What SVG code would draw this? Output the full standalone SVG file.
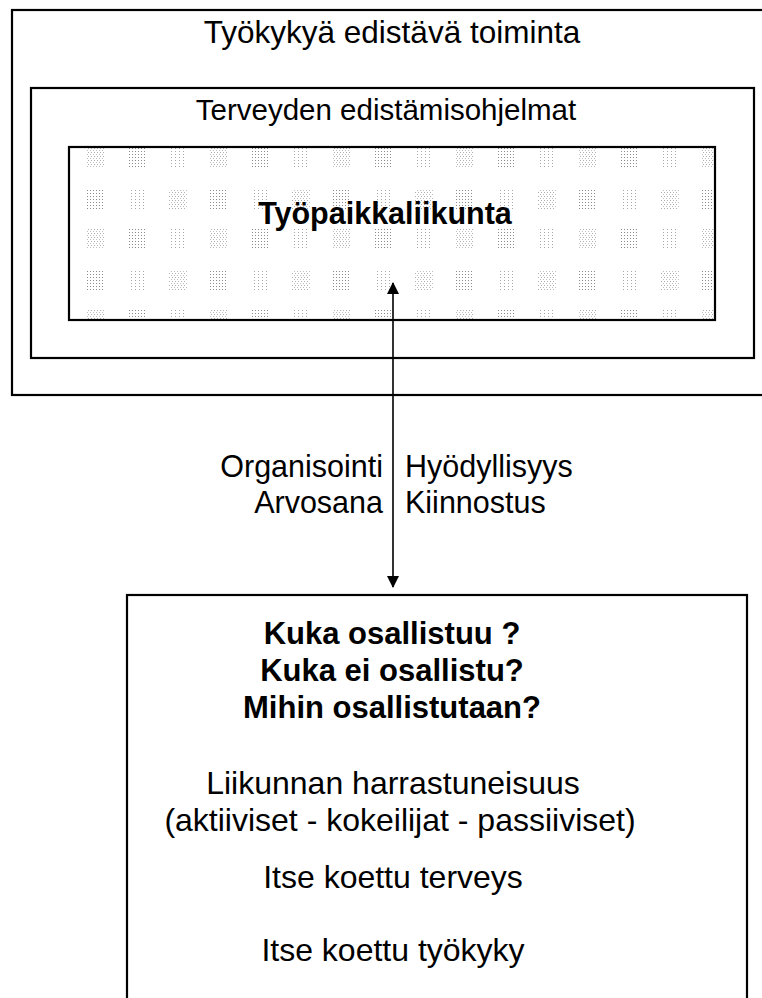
<svg xmlns="http://www.w3.org/2000/svg" width="762" height="998" viewBox="0 0 762 998">
<style>
  .box { fill: none; stroke: #000; stroke-width: 2.2; }
  .t { font-family: "Liberation Sans", Arial, sans-serif; fill: #000; }
  .c { text-anchor: middle; }
  .b { font-weight: bold; }
  .conn { stroke: #000; stroke-width: 1.6; fill: none; }
</style>
<defs>
  <pattern id="dA" patternUnits="userSpaceOnUse" width="3" height="3">
    <rect x="0" y="0" width="1" height="1" fill="#8c8c8c"/>
  </pattern>
  <pattern id="dB" patternUnits="userSpaceOnUse" width="4" height="3">
    <rect x="0" y="0" width="1" height="1" fill="#a8a8a8"/>
  </pattern>
  <pattern id="dC" patternUnits="userSpaceOnUse" width="3" height="4">
    <rect x="1" y="0" width="1" height="1" fill="#b0b0b0"/>
    <rect x="0" y="2" width="1" height="1" fill="#c0c0c0"/>
  </pattern>
  <pattern id="tiles" patternUnits="userSpaceOnUse" x="87" y="148" width="123" height="81">
    <rect x="0" y="0" width="18" height="20" fill="url(#dC)"/>
    <rect x="41" y="0" width="18" height="20" fill="url(#dA)"/>
    <rect x="82" y="0" width="18" height="20" fill="url(#dB)"/>
    <rect x="0" y="41" width="18" height="20" fill="url(#dA)"/>
    <rect x="41" y="41" width="18" height="20" fill="url(#dB)"/>
    <rect x="82" y="41" width="18" height="20" fill="url(#dC)"/>
  </pattern>
  <marker id="ah" viewBox="0 0 12 12" refX="11" refY="6" markerWidth="12" markerHeight="12" markerUnits="userSpaceOnUse" orient="auto-start-reverse">
    <path d="M0,0 L12,6 L0,12 Z" fill="#000"/>
  </marker>
</defs>

<g id="outer">
  <rect class="box" x="12" y="10" width="760" height="385"/>
  <text class="t c" x="392" y="43" font-size="31.5">Työkykyä edistävä toiminta</text>
</g>
<g id="programs">
  <rect class="box" x="31" y="88" width="723" height="270"/>
  <text class="t c" x="386" y="120" font-size="29.5">Terveyden edistämisohjelmat</text>
</g>
<g id="workplace">
  <rect x="69" y="147" width="646" height="173" fill="#fff"/>
  <rect x="69" y="147" width="646" height="173" fill="url(#tiles)"/>
  <rect class="box" x="69" y="147" width="646" height="173" stroke-width="2.6"/>
  <text class="t c b" x="385" y="224" font-size="30.5">Työpaikkaliikunta</text>
</g>

<g id="connectors">
  <line class="conn" x1="393" y1="283" x2="393" y2="587" marker-start="url(#ah)" marker-end="url(#ah)"/>
</g>

<g id="labels">
  <text class="t" x="383" y="477" font-size="30.5" text-anchor="end">Organisointi</text>
  <text class="t" x="383" y="513" font-size="30.5" text-anchor="end">Arvosana</text>
  <text class="t" x="405" y="477" font-size="30.5">Hyödyllisyys</text>
  <text class="t" x="405" y="513" font-size="30.5">Kiinnostus</text>
</g>

<g id="participation">
  <rect class="box" x="127" y="595" width="620" height="420"/>
  <text class="t c b" x="392" y="644" font-size="31">Kuka osallistuu ?</text>
  <text class="t c b" x="392" y="681" font-size="31">Kuka ei osallistu?</text>
  <text class="t c b" x="392" y="718" font-size="31">Mihin osallistutaan?</text>
  <text class="t c" x="393" y="794" font-size="32">Liikunnan harrastuneisuus</text>
  <text class="t c" x="400" y="831" font-size="32">(aktiiviset - kokeilijat - passiiviset)</text>
  <text class="t c" x="393" y="888" font-size="32">Itse koettu terveys</text>
  <text class="t c" x="393" y="961" font-size="32">Itse koettu työkyky</text>
</g>
</svg>
